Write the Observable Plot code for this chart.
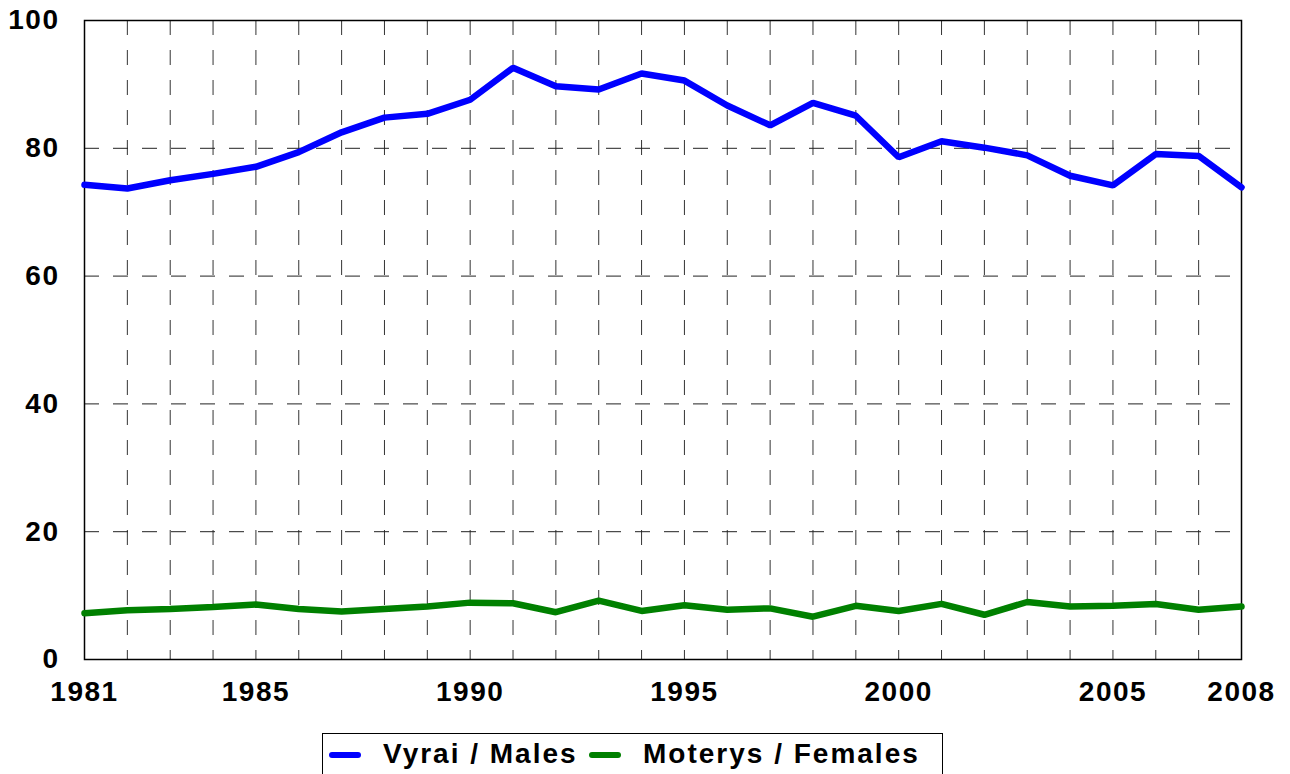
<!DOCTYPE html>
<html>
<head>
<meta charset="utf-8">
<script src="https://cdn.jsdelivr.net/npm/d3@7"></script>
<script src="https://cdn.jsdelivr.net/npm/@observablehq/plot@0.6"></script>
<style>
  html, body { margin: 0; padding: 0; background: #fff; overflow: hidden; }
  #wrap { position: relative; width: 1290px; height: 774px; }
  #legend {
    position: absolute; left: 322px; top: 733px; width: 621px; height: 60px;
    border: 1.5px solid #000; box-sizing: border-box;
    font-family: "Liberation Sans", Arial, sans-serif; font-weight: bold;
    font-size: 28px; letter-spacing: 2px; color: #000;
  }
  .sw { position: absolute; top: 18px; width: 32px; height: 6px; border-radius: 3px; }
  .lt { position: absolute; top: 4px; white-space: nowrap; }
</style>
</head>
<body>
<div id="wrap">
  <div id="chart"></div>
  <div id="legend"></div>
</div>
<script>
const years = [1981,1982,1983,1984,1985,1986,1987,1988,1989,1990,1991,1992,1993,1994,1995,1996,1997,1998,1999,2000,2001,2002,2003,2004,2005,2006,2007,2008];
const males = [74.3,73.7,75.0,76.0,77.1,79.4,82.5,84.8,85.4,87.6,92.6,89.7,89.2,91.7,90.6,86.7,83.6,87.1,85.1,78.6,81.1,80.1,78.9,75.7,74.2,79.1,78.8,73.9];
const females = [7.25,7.7,7.9,8.2,8.6,7.9,7.5,7.9,8.3,8.9,8.8,7.4,9.2,7.6,8.5,7.8,8.0,6.7,8.4,7.6,8.7,7.0,9.0,8.3,8.4,8.7,7.8,8.3];
const xTicks = [1981,1985,1990,1995,2000,2005,2008];
const yTicks = [0,20,40,60,80,100];
const hGrid = [20,40,60,80];
const vGrid = years.slice(1, -1);
const seriesNames = ["Vyrai / Males", "Moterys / Females"];
const seriesColors = ["#0000ff", "#008000"];

const maleData = years.map((y, i) => ({year: y, value: males[i]}));
const femaleData = years.map((y, i) => ({year: y, value: females[i]}));

const chart = Plot.plot({
  width: 1290,
  height: 715,
  marginLeft: 84,
  marginRight: 49,
  marginTop: 20,
  marginBottom: 56,
  style: {fontFamily: "'Liberation Sans', Arial, sans-serif", fontWeight: "bold", fontSize: "28px", color: "#000", letterSpacing: "1.5px", background: "#fff"},
  x: {domain: [1981, 2008], ticks: xTicks, tickFormat: d => String(d), tickSize: 0, tickPadding: 22, label: null},
  y: {domain: [0, 100], ticks: yTicks, tickSize: 0, tickPadding: 25, label: null},
  marks: [
    Plot.ruleX(vGrid, {stroke: "#333", strokeWidth: 1, strokeDasharray: "15,15"}),
    Plot.ruleY(hGrid, {stroke: "#222", strokeWidth: 1, strokeDasharray: "15,14"}),
    Plot.frame({stroke: "#000", strokeWidth: 1.5}),
    Plot.line(maleData, {x: "year", y: "value", stroke: seriesColors[0], strokeWidth: 6.5, strokeLinejoin: "miter"}),
    Plot.line(femaleData, {x: "year", y: "value", stroke: seriesColors[1], strokeWidth: 6.5, strokeLinejoin: "miter"})
  ]
});
document.getElementById("chart").appendChild(chart);

const legend = document.getElementById("legend");
const swLeft = [6, 266];
const txtLeft = [60, 320];
seriesNames.forEach((name, i) => {
  const sw = document.createElement("div");
  sw.className = "sw";
  sw.style.left = swLeft[i] + "px";
  sw.style.background = seriesColors[i];
  legend.appendChild(sw);
  const t = document.createElement("div");
  t.className = "lt";
  t.style.left = txtLeft[i] + "px";
  t.textContent = name;
  legend.appendChild(t);
});
</script>
</body>
</html>
